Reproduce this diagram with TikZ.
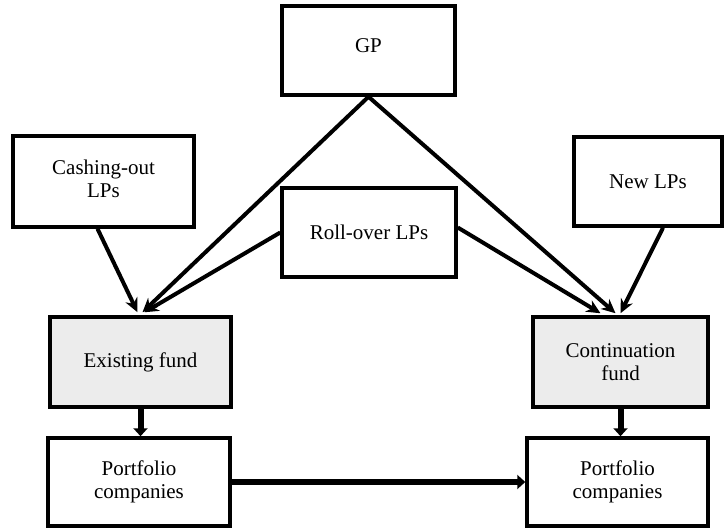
\documentclass[tikz,border=0pt]{standalone}
\usepackage{fontspec}
\setmainfont{Liberation Serif}
\usepackage{tikz}
\usetikzlibrary{arrows.meta,positioning}

\begin{document}
\begin{tikzpicture}[x=1pt,y=-1pt,->,>={Stealth[length=14pt,width=13pt]},line width=4pt,
                    font=\fontsize{21}{23}\selectfont]
                  \tikzstyle{box}=[draw,line width=3.5pt,align=center,inner sep=0pt]
                  \tikzstyle{fund}=[box,fill=gray!15]
                  \tikzstyle{flow}=[line width=6pt,-{Triangle[length=8pt,width=14pt]}]
                  \useasboundingbox (0,0) rectangle (728,529);

                  \node[box,minimum width=173pt,minimum height=89pt]  (GP)    at (368.5,50.5) {\raisebox{10pt}{GP}};
                  \node[box,minimum width=181pt,minimum height=91pt]  (cash)  at (103.5,181.5) {\raisebox{14pt}{\begin{tabular}{c}Cashing-out\\LPs\end{tabular}}};
                  \node[box,minimum width=148pt,minimum height=89pt]  (new)   at (648,181.5) {New LPs};
                  \node[box,minimum width=174pt,minimum height=89pt]  (roll)  at (369,232.5) {Roll-over LPs};
                  \node[fund,minimum width=181pt,minimum height=90pt] (exist) at (140.5,362) {Existing fund};
                  \node[fund,minimum width=175pt,minimum height=90pt] (cont)  at (620.5,362) {Continuation\\fund};
                  \node[box,minimum width=182pt,minimum height=88pt]  (portA) at (139,482) {Portfolio\\companies};
                  \node[box,minimum width=181pt,minimum height=88pt]  (portB) at (617.5,482) {Portfolio\\companies};

                  \path ([xshift=-6pt]cash.south) edge ([xshift=-3pt,yshift=3pt]exist.north)
                        (GP.south) edge ([xshift=2pt,yshift=3pt]exist.north)
                        (roll.west) edge ([xshift=4pt,yshift=3pt]exist.north)
                        (GP.south) edge ([xshift=-5pt,yshift=2pt]cont.north)
                        ([yshift=5pt]roll.east) edge ([xshift=-20pt,yshift=2pt]cont.north)
                        ([xshift=15pt]new.south) edge ([yshift=2pt]cont.north);

                  \path[flow] (exist.south) edge (exist.south |- portA.north)
                        (cont.south) edge (cont.south |- portB.north)
                        (portA.east) edge (portB.west);
                \end{tikzpicture}
\end{document}
